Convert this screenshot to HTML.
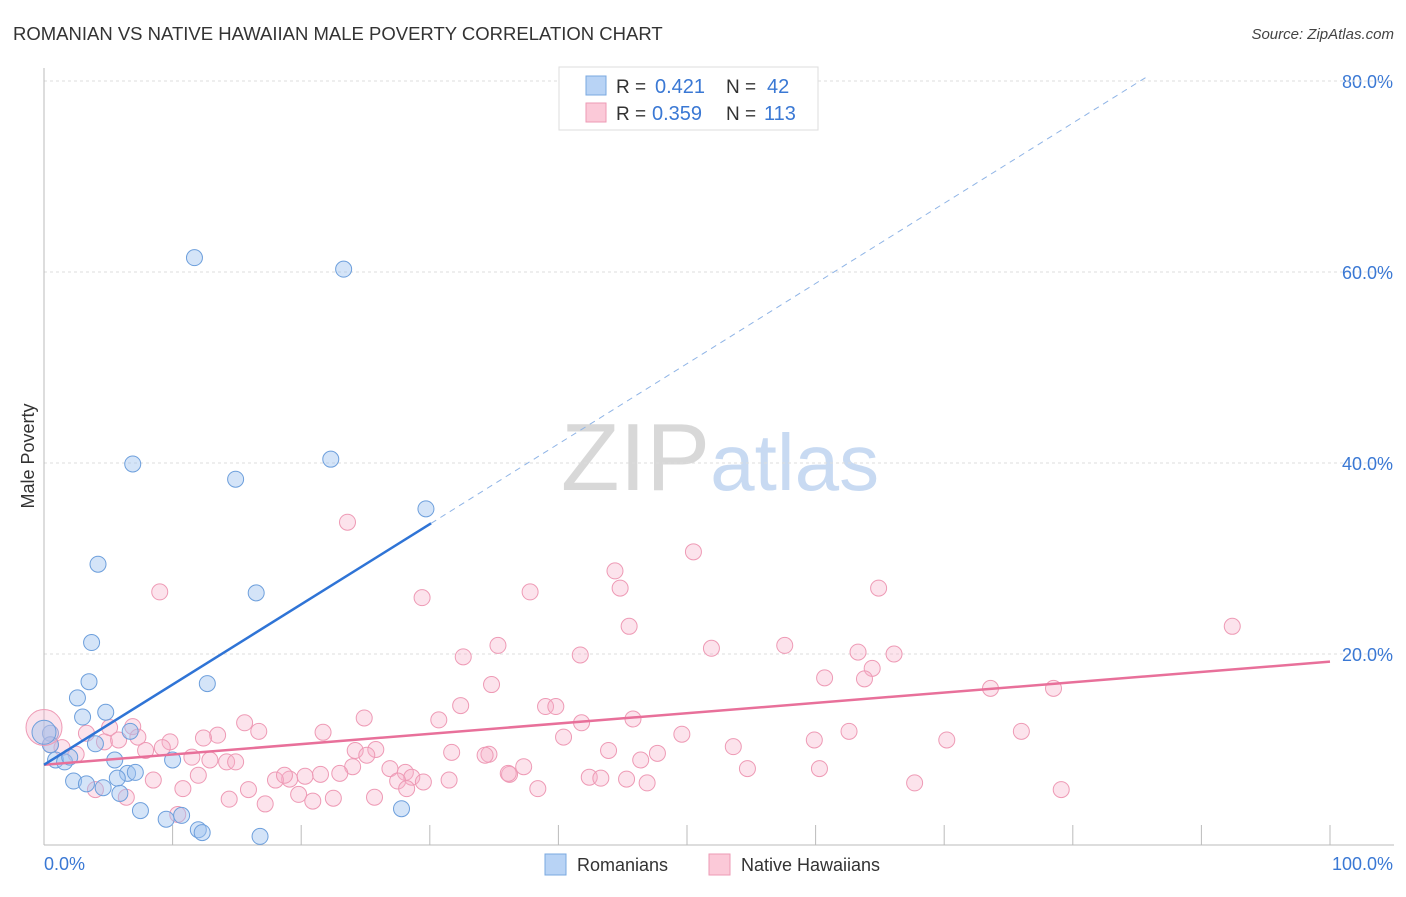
<!DOCTYPE html>
<html><head><meta charset="utf-8"><style>
body{margin:0;background:#fff;font-family:"Liberation Sans",sans-serif;}
svg text{font-family:"Liberation Sans",sans-serif;}
</style></head><body>
<svg id="chart" width="1406" height="892" viewBox="0 0 1406 892" xmlns="http://www.w3.org/2000/svg">
<text x="13" y="40" font-size="18.5" fill="#333">ROMANIAN VS NATIVE HAWAIIAN MALE POVERTY CORRELATION CHART</text>
<text x="1394" y="39" font-size="15" fill="#444" font-style="italic" text-anchor="end">Source: ZipAtlas.com</text>
<text x="720" y="490" font-size="96" fill="#ddd" text-anchor="middle" font-family="Liberation Serif"><tspan fill="#d8d8d8">ZIP</tspan><tspan fill="#c8daf2" font-family="Liberation Sans" font-size="80">atlas</tspan></text>
<g id="grid"></g>
<g id="axes"></g>
<g id="marks"></g>
<text transform="translate(34,456) rotate(-90)" font-size="18" fill="#333" text-anchor="middle">Male Poverty</text>
<g>
<rect x="559" y="67" width="259" height="63" fill="#fff" stroke="#ddd"/>
<rect x="586" y="76" width="20" height="19" fill="#b8d3f5" stroke="#7aa8e0"/>
<rect x="586" y="103" width="20" height="19" fill="#fbc9d8" stroke="#ee9ab5"/>
<text x="616" y="93" font-size="19" fill="#333">R =</text>
<text x="655" y="93" font-size="20" fill="#3a78d4">0.421</text>
<text x="726" y="93" font-size="19" fill="#333">N =</text>
<text x="767" y="93" font-size="20" fill="#3a78d4">42</text>
<text x="616" y="120" font-size="19" fill="#333">R =</text>
<text x="652" y="120" font-size="20" fill="#3a78d4">0.359</text>
<text x="726" y="120" font-size="19" fill="#333">N =</text>
<text x="764" y="120" font-size="20" fill="#3a78d4">113</text>
</g>
<g>
<rect x="545" y="854" width="21" height="21" fill="#b8d3f5" stroke="#7aa8e0"/>
<text x="577" y="871" font-size="18" fill="#333">Romanians</text>
<rect x="709" y="854" width="21" height="21" fill="#fbc9d8" stroke="#ee9ab5"/>
<text x="741" y="871" font-size="18" fill="#333">Native Hawaiians</text>
</g>
</svg>
<script>
const yTicks=[20,40,60,80];
const yTickLabels=["20.0%","40.0%","60.0%","80.0%"];
const xTicks=[0,10,20,30,40,50,60,70,80,90,100];
const blueX=[11.7,23.3,6.9,22.3,14.9,29.7,4.2,16.5,3.7,3.5,12.7,2.6,4.8,3.0,6.7,4.0,0.5,0.5,0.9,1.6,2.0,5.5,10.0,6.5,7.1,5.7,2.3,3.3,4.6,5.9,7.5,9.5,10.7,12.0,12.3,16.8,27.8];
const blueY=[61.5,60.3,39.9,40.4,38.3,35.2,29.4,26.4,21.2,17.1,16.9,15.4,13.9,13.4,11.9,10.6,11.7,10.5,8.9,8.7,9.2,8.9,8.9,7.5,7.6,7.0,6.7,6.4,6.0,5.4,3.6,2.7,3.1,1.6,1.3,0.9,3.8];
const pinkX=[23.6,50.5,44.4,37.8,29.4,9.0,44.8,64.9,92.4,45.5,35.3,51.9,57.6,32.6,41.7,63.3,66.1,64.4,63.8,60.7,34.8,73.6,78.5,32.4,39.0,39.8,24.9,30.7,41.8,45.8,15.6,6.9,16.7,21.7,13.5,12.4,76.0,62.6,49.6,40.4,59.9,70.2,7.3,4.7,9.8,9.2,7.9,25.8,24.2,25.1,31.7,34.6,34.3,43.9,47.7,53.6,46.4,11.5,12.9,14.2,14.9,24.0,26.9,28.1,28.6,37.3,36.2,36.1,23.0,21.5,20.3,19.1,18.0,18.7,12.0,8.5,27.5,29.5,31.5,42.4,43.3,45.3,54.7,60.3,46.9,67.7,79.1,38.4,28.2,25.7,22.5,20.9,19.8,17.2,15.9,14.4,10.8,6.4,4.0,10.4,2.5,1.4,3.3,0.5,5.1,5.8];
const pinkY=[33.8,30.7,28.7,26.5,25.9,26.5,26.9,26.9,22.9,22.9,20.9,20.6,20.9,19.7,19.9,20.2,20.0,18.5,17.4,17.5,16.8,16.4,16.4,14.6,14.5,14.5,13.3,13.1,12.8,13.2,12.8,12.4,11.9,11.8,11.5,11.2,11.9,11.9,11.6,11.3,11.0,11.0,11.3,10.8,10.8,10.2,9.9,10.0,9.9,9.4,9.7,9.5,9.4,9.9,9.6,10.3,8.9,9.2,8.9,8.7,8.7,8.2,8.0,7.6,7.1,8.2,7.4,7.5,7.5,7.4,7.2,6.9,6.8,7.3,7.3,6.8,6.7,6.6,6.8,7.1,7.0,6.9,8.0,8.0,6.5,6.5,5.8,5.9,5.9,5.0,4.9,4.6,5.3,4.3,5.8,4.8,5.9,5.0,5.8,3.2,9.5,10.2,11.7,10.5,12.3,11.0];
const bigX=[0,0];const bigY=[12.3,11.8];
const blueTrend=[8.4,0.84];
const pinkTrend=[8.4,0.108];
const NS="http://www.w3.org/2000/svg";
const X=v=>44+v*12.86, Y=v=>845-v*9.55;
function mk(tag,attrs,parent){const e=document.createElementNS(NS,tag);for(const k in attrs)e.setAttribute(k,attrs[k]);document.getElementById(parent).appendChild(e);return e;}
yTicks.forEach((t,i)=>{
 const l=mk('line',{x1:44,x2:1394,y1:Y(t),y2:Y(t),stroke:'#ddd','stroke-dasharray':'3,3'},'grid');
 
 
 const tx=mk('text',{x:1393,y:Y(t)+7,'font-size':18,fill:'#3a78d4','text-anchor':'end'},'grid');
 tx.textContent=yTickLabels[i];
 
 
});
const ax=mk('line',{x1:44,x2:1394,y1:845,y2:845,stroke:'#bbb'},'axes');


const ay=mk('line',{x1:44,x2:44,y1:68,y2:845,stroke:'#bbb'},'axes');


xTicks.forEach(t=>{if(t===0)return;const l=mk('line',{x1:X(t),x2:X(t),y1:825,y2:845,stroke:'#bbb'},'axes');
 
 });
[["0.0%",44,'start'],["100.0%",1393,'end']].forEach(a=>{const t=mk('text',{x:a[1],y:870,'font-size':18,fill:'#3a78d4','text-anchor':a[2]},'axes');t.textContent=a[0];
 
 });
function dots(xs,ys,fill,stroke,name,r){xs.forEach((x,i)=>{const c=mk('circle',{cx:X(x),cy:Y(ys[i]),r:r,fill:fill,stroke:stroke,'stroke-width':1},'marks');
 
 });}
dots(pinkX,pinkY,'rgba(246,176,200,0.35)','#ee9ab5','native-hawaiian-point',8);
dots(blueX,blueY,'rgba(160,196,240,0.45)','#6d9fdc','romanian-point',8);
const bp=mk('circle',{cx:X(bigX[0]),cy:Y(bigY[0]),r:18,fill:'rgba(246,176,200,0.35)',stroke:'#ee9ab5'},'marks');


const bb=mk('circle',{cx:X(bigX[1]),cy:Y(bigY[1]),r:12,fill:'rgba(160,196,240,0.45)',stroke:'#6d9fdc'},'marks');


const pt=mk('line',{x1:X(0),y1:Y(pinkTrend[0]),x2:X(100),y2:Y(pinkTrend[0]+pinkTrend[1]*100),stroke:'#e8709a','stroke-width':2.5},'marks');


const bt=mk('line',{x1:X(0),y1:Y(blueTrend[0]),x2:X(30.1),y2:Y(blueTrend[0]+blueTrend[1]*30.1),stroke:'#2f74d6','stroke-width':2.5},'marks');


const xe=(80.5-blueTrend[0])/blueTrend[1];
const bd=mk('line',{x1:X(30.1),y1:Y(blueTrend[0]+blueTrend[1]*30.1),x2:X(xe),y2:Y(80.5),stroke:'#8fb4e6','stroke-width':1,'stroke-dasharray':'6,5'},'marks');


const topGrid=mk('line',{x1:44,x2:1394,y1:Y(80),y2:Y(80),stroke:'#ddd','stroke-dasharray':'3,3'},'grid');


</script>
</body></html>
